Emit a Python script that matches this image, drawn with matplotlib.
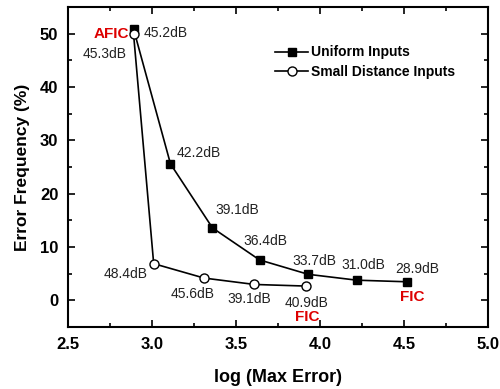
import matplotlib
matplotlib.use('Agg')
import matplotlib.pyplot as plt
from matplotlib.ticker import MultipleLocator

plt.rcParams['font.family'] = ['Liberation Sans', 'DejaVu Sans']

# Uniform Inputs
uni_x = [2.89, 3.11, 3.36, 3.64, 3.93, 4.22, 4.52]
uni_y = [50.9, 25.6, 13.6, 7.6, 4.9, 3.8, 3.5]
uni_lbl = ['45.2dB', '42.2dB', '39.1dB', '36.4dB', '33.7dB', '31.0dB', '28.9dB']

# Small Distance Inputs
sd_x = [2.89, 3.01, 3.31, 3.61, 3.915]
sd_y = [50.0, 6.9, 4.2, 3.0, 2.7]
sd_lbl = ['45.3dB', '48.4dB', '45.6dB', '39.1dB', '40.9dB']

# label offsets in pixels (dx, dy)
uni_off = [(32, -4), (28, 11), (25, 18), (6, 19), (6, 13), (6, 15), (10, 13)]
sd_off = [(-29, -20), (-28, -10), (-11, -16), (-5, -15), (1, -17)]

fig = plt.figure(figsize=(5, 3.89), dpi=100)
ax = fig.add_axes([0.136, 0.159, 0.84, 0.823])

ax.plot(uni_x, uni_y, color='black', lw=1.2, marker='s', ms=5.5,
        mfc='black', mec='black', label='Uniform Inputs')
ax.plot(sd_x, sd_y, color='black', lw=1.2, marker='o', ms=6.5,
        mfc='white', mec='black', label='Small Distance Inputs')

for x, y, t, o in zip(uni_x, uni_y, uni_lbl, uni_off):
    ax.annotate(t, (x, y), xytext=o, textcoords='offset pixels',
                ha='center', va='center', fontsize=10, color='#222222')
for x, y, t, o in zip(sd_x, sd_y, sd_lbl, sd_off):
    ax.annotate(t, (x, y), xytext=o, textcoords='offset pixels',
                ha='center', va='center', fontsize=10, color='#222222')

red = '#dd0000'
ax.annotate('AFIC', (uni_x[0], uni_y[0]), xytext=(-22, -5), textcoords='offset pixels',
            ha='center', va='center', fontsize=11, color=red, fontweight='bold')
ax.annotate('FIC', (uni_x[-1], uni_y[-1]), xytext=(5, -15), textcoords='offset pixels',
            ha='center', va='center', fontsize=11, color=red, fontweight='bold')
ax.annotate('FIC', (sd_x[-1], sd_y[-1]), xytext=(2, -31), textcoords='offset pixels',
            ha='center', va='center', fontsize=11, color=red, fontweight='bold')

ax.set_xlim(2.5, 5.0)
ax.set_ylim(-5, 55)
ax.xaxis.set_major_locator(MultipleLocator(0.5))
ax.xaxis.set_minor_locator(MultipleLocator(0.25))
ax.yaxis.set_major_locator(MultipleLocator(10))
ax.yaxis.set_minor_locator(MultipleLocator(5))
ax.tick_params(which='both', direction='in', top=True, right=True, width=1.2)
ax.tick_params(which='major', length=5, labelsize=12, pad=7)
ax.tick_params(which='minor', length=3)
for lab in ax.get_xticklabels() + ax.get_yticklabels():
    lab.set_fontweight('bold')
for s in ax.spines.values():
    s.set_linewidth(1.5)

ax.set_xlabel('log (Max Error)', fontsize=13, fontweight='bold', labelpad=12)
ax.set_ylabel('Error Frequency (%)', fontsize=12.5, fontweight='bold', labelpad=7)

leg = ax.legend(loc='upper left', bbox_to_anchor=(0.493, 0.88), frameon=False,
                prop={'weight': 'bold', 'size': 10}, handlelength=2.4,
                handletextpad=0.2, labelspacing=0.4, borderpad=0, borderaxespad=0)

plt.savefig('out.png', dpi=100)
